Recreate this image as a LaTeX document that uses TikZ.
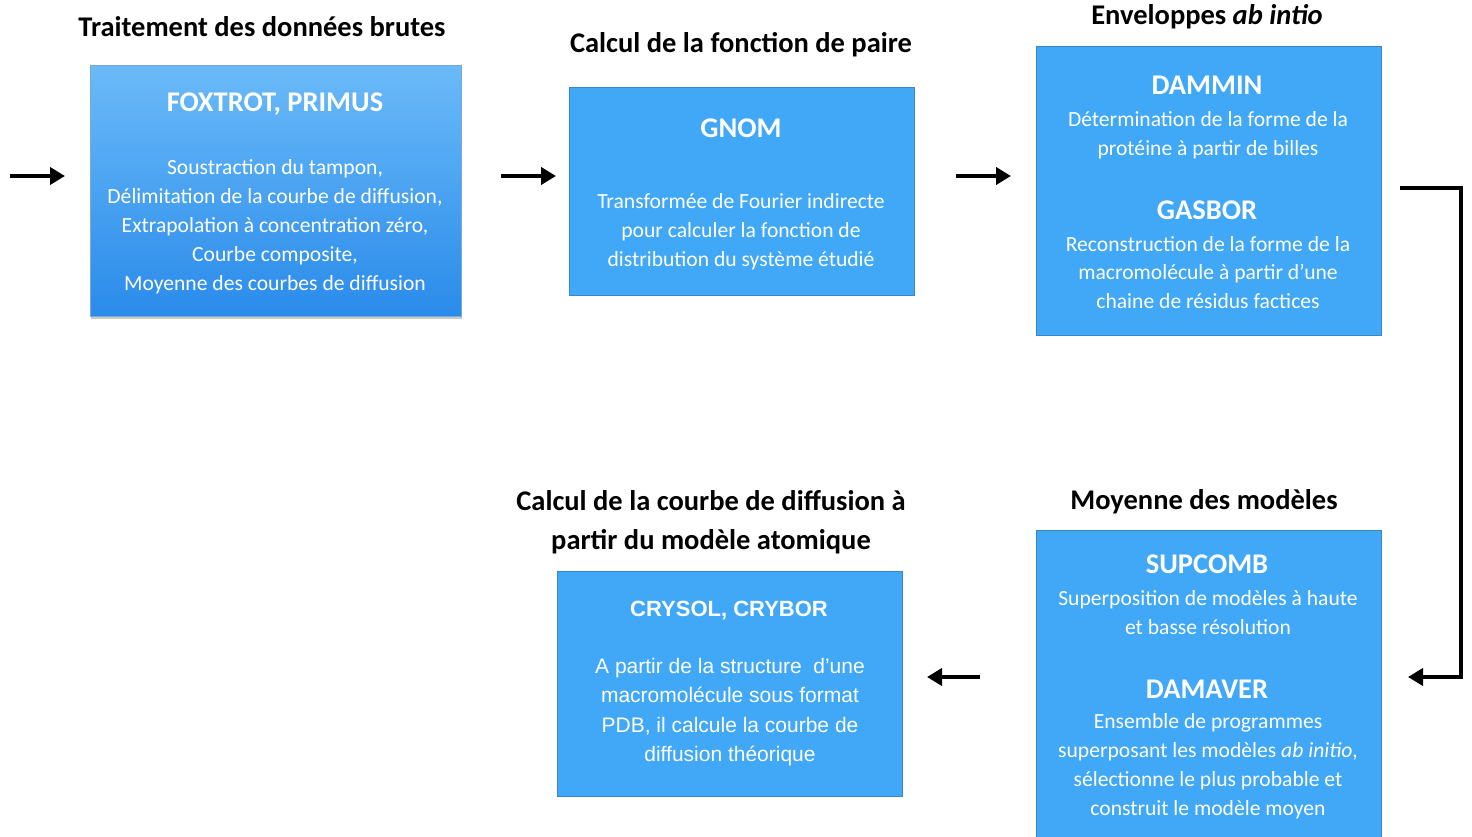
\documentclass[tikz,border=0pt]{standalone}
\usepackage{fontspec}
\setmainfont{Carlito}
\newfontfamily\arialfont{Liberation Sans}
\usetikzlibrary{arrows.meta,shadows}
\definecolor{boxblue}{HTML}{40A8F6}
\definecolor{boxedge}{HTML}{3A86C4}
\definecolor{gradtop}{HTML}{6ABAF8}
\definecolor{gradbot}{HTML}{2A8BEA}
\tikzset{
  box/.style={draw=boxedge, line width=1.2pt, fill=boxblue, anchor=north west, inner sep=0pt},
  gbox/.style={draw=gradbot!80!black!60, line width=0.8pt, top color=gradtop, bottom color=gradbot, anchor=north west, inner sep=0pt,
     drop shadow={shadow xshift=1pt, shadow yshift=-3pt, fill=black!35, opacity=0.6}},
  head/.style={font=\bfseries\fontsize{28.5}{39}\selectfont, text=black, align=center, inner sep=0pt},
  prog/.style={font=\bfseries\fontsize{28.5}{30}\selectfont, text=white, inner sep=0pt},
  body/.style={font=\fontsize{21.6}{28.9}\selectfont, text=white, align=center, inner sep=0pt},
  aprog/.style={font=\arialfont\bfseries\fontsize{22}{30}\selectfont, text=white, inner sep=0pt},
  abody/.style={font=\arialfont\fontsize{21}{29.3}\selectfont, text=white, align=center, inner sep=0pt},
  arr/.style={line width=4pt, -{Triangle[length=15pt,width=17pt]}},
  conn/.style={line width=4pt, line join=miter, -{Triangle[length=15pt,width=17pt]}}
}
\begin{document}
\begin{tikzpicture}[x=1pt,y=-1pt]
\useasboundingbox (0,0) rectangle (1472,837);
% boxes
\node[gbox, minimum width=371pt, minimum height=251pt] (b1) at (90,65) {};
\node[box, minimum width=345pt, minimum height=208pt] (b2) at (569,87) {};
\node[box, minimum width=345pt, minimum height=289pt] (b3) at (1036,46) {};
\node[box, minimum width=345pt, minimum height=310pt] (b4) at (1036,530) {};
\node[box, minimum width=345pt, minimum height=225pt] (b5) at (557,571) {};
% headings
\node[head] (h1) at (262,27) {Traitement des données brutes};
\node[head] (h2) at (741,45) {Calcul de la fonction de paire};
\node[head] (h3) at (1207,17) {Enveloppes \textit{ab intio}};
\node[head] (h4) at (1204,502) {Moyenne des modèles};
\node[head] (h5) at (711,522) {Calcul de la courbe de diffusion à\\partir du modèle atomique};
% box 1
\node[prog] (p1) at (275,104) {FOXTROT, PRIMUS};
\node[body] (t1) at (275,227) {Soustraction du tampon,\\Délimitation de la courbe de diffusion,\\Extrapolation à concentration zéro,\\Courbe composite,\\Moyenne des courbes de diffusion};
% box 2
\node[prog] (p2) at (741,128) {GNOM};
\node[body] (t2) at (741,231.5) {Transformée de Fourier indirecte\\pour calculer la fonction de\\distribution du système étudié};
% box 3
\node[prog] (p3a) at (1207,85) {DAMMIN};
\node[body] (t3a) at (1208,135.5) {Détermination de la forme de la\\protéine à partir de billes};
\node[prog] (p3b) at (1207,210) {GASBOR};
\node[body] (t3b) at (1208,272.5) {Reconstruction de la forme de la\\macromolécule à partir d’une\\chaine de résidus factices};
% box 4
\node[prog] (p4a) at (1207,564) {SUPCOMB};
\node[body] (t4a) at (1208,612.5) {Superposition de modèles à haute\\et basse résolution};
\node[prog] (p4b) at (1207,689) {DAMAVER};
\node[body] (t4b) at (1208,766.5) {Ensemble de programmes\\superposant les modèles \textit{ab initio},\\sélectionne le plus probable et\\construit le modèle moyen};
% box 5
\node[aprog] (p5) at (729,611) {CRYSOL, CRYBOR};
\node[abody] (t5) at (730,712) {A partir de la structure\ \ d’une\\macromolécule sous format\\PDB, il calcule la courbe de\\diffusion théorique};
% connectors
\coordinate (in0) at (10,176);
\coordinate (in1) at (65,176);
\coordinate (a1s) at (501,176);
\coordinate (a1e) at (556,176);
\coordinate (a2s) at (956,176);
\coordinate (a2e) at (1011,176);
\coordinate (c0) at (1400,188);
\coordinate (c1) at (1461,188);
\coordinate (c2) at (1461,677);
\coordinate (c3) at (1408,677);
\coordinate (a3s) at (980,677);
\coordinate (a3e) at (927,677);
\draw[arr] (in0) -- (in1);
\draw[arr] (a1s) -- (a1e);
\draw[arr] (a2s) -- (a2e);
\draw[conn] (c0) -- (c1) -- (c2) -- (c3);
\draw[arr] (a3s) -- (a3e);
\end{tikzpicture}
\end{document}
